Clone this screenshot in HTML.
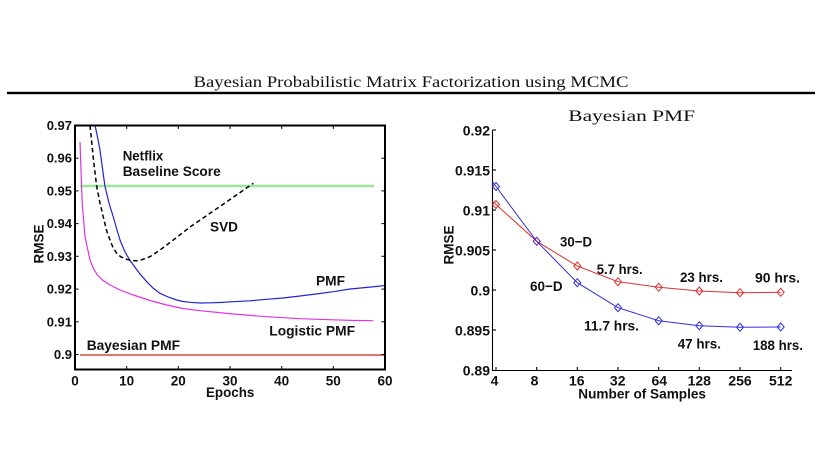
<!DOCTYPE html>
<html>
<head>
<meta charset="utf-8">
<style>
  html,body{margin:0;padding:0;background:#fff;}
  svg{display:block;}
  .lab{font-family:"Liberation Sans",Arial,sans-serif;font-weight:bold;fill:#111;}
  .ser{font-family:"Liberation Serif","Times New Roman",serif;fill:#111;}
</style>
</head>
<body>
<svg width="819" height="460" viewBox="0 0 819 460" xmlns="http://www.w3.org/2000/svg">
  <rect x="0" y="0" width="819" height="460" fill="#fff"/>

  <!-- Main title + rule -->
  <text class="ser" x="193.5" y="87" font-size="15.5" textLength="435" lengthAdjust="spacingAndGlyphs">Bayesian Probabilistic Matrix Factorization using MCMC</text>
  <rect x="7" y="91.8" width="808" height="2.4" fill="#000"/>

  <!-- ============ LEFT CHART ============ -->
  <line x1="80" y1="186" x2="374" y2="186" stroke="#98e898" stroke-width="2.6"/>
  <line x1="80" y1="355" x2="385" y2="355" stroke="#cc2020" stroke-width="1.2"/>
  <polyline fill="none" stroke="#e033e0" stroke-width="1.2" points="80,142 81,170 82.2,203 85,236.7 90,260 93.6,269 97.5,275 103,280.5 110,285 120,290 133.3,295 150,300.5 166.7,305 183,308.5 200,310.7 233.3,314 266.7,316.7 300,318.7 333.3,319.8 355,320.5 373.3,320.7"/>
  <polyline fill="none" stroke="#2424d0" stroke-width="1.2" points="95,125.5 96.7,133 100,150 102,165 105,186.5 109,203 113.3,217 117,230 120,240 125,252 130,260.5 133.3,265 140,274 146.7,281.7 153,288 160,293.3 168,297 176.7,300 183,301.5 190,302.3 200,303 210,302.8 220,302.5 233.3,301.7 250,300.8 266.7,299.3 283,298 300,296 316,294 333.3,291.7 350,289 366,287.5 383.3,285.7 385,285.5"/>
  <polyline fill="none" stroke="#000" stroke-width="1.5" stroke-dasharray="4.5,3" points="90,125.5 91.5,140 93.5,160 96.7,186.7 100,203 103.3,217 107,232 110,240 113,247.5 116.7,253.3 121,257 126.7,259.3 131,260.5 136.7,260.7 143,259.3 150,256.7 160,250 173.3,240 190,227 210,213.3 230,199.5 253.3,183.3"/>

  <rect x="75" y="125.5" width="310" height="244" fill="none" stroke="#000" stroke-width="2"/>
  <g stroke="#000" stroke-width="1">
    <line x1="126.7" y1="369.5" x2="126.7" y2="366"/><line x1="126.7" y1="125.5" x2="126.7" y2="129"/>
    <line x1="178.3" y1="369.5" x2="178.3" y2="366"/><line x1="178.3" y1="125.5" x2="178.3" y2="129"/>
    <line x1="230" y1="369.5" x2="230" y2="366"/><line x1="230" y1="125.5" x2="230" y2="129"/>
    <line x1="281.7" y1="369.5" x2="281.7" y2="366"/><line x1="281.7" y1="125.5" x2="281.7" y2="129"/>
    <line x1="333.3" y1="369.5" x2="333.3" y2="366"/><line x1="333.3" y1="125.5" x2="333.3" y2="129"/>
    <line x1="75" y1="158.2" x2="78.5" y2="158.2"/><line x1="385" y1="158.2" x2="381.5" y2="158.2"/>
    <line x1="75" y1="190.9" x2="78.5" y2="190.9"/><line x1="385" y1="190.9" x2="381.5" y2="190.9"/>
    <line x1="75" y1="223.6" x2="78.5" y2="223.6"/><line x1="385" y1="223.6" x2="381.5" y2="223.6"/>
    <line x1="75" y1="256.3" x2="78.5" y2="256.3"/><line x1="385" y1="256.3" x2="381.5" y2="256.3"/>
    <line x1="75" y1="289.1" x2="78.5" y2="289.1"/><line x1="385" y1="289.1" x2="381.5" y2="289.1"/>
    <line x1="75" y1="321.8" x2="78.5" y2="321.8"/><line x1="385" y1="321.8" x2="381.5" y2="321.8"/>
    <line x1="75" y1="354.5" x2="78.5" y2="354.5"/><line x1="385" y1="354.5" x2="381.5" y2="354.5"/>
  </g>
  <g class="lab" font-size="13" text-anchor="end">
    <text x="72" y="130">0.97</text>
    <text x="72" y="162.7">0.96</text>
    <text x="72" y="195.4">0.95</text>
    <text x="72" y="228.1">0.94</text>
    <text x="72" y="260.8">0.93</text>
    <text x="72" y="293.6">0.92</text>
    <text x="72" y="326.3">0.91</text>
    <text x="72" y="359">0.9</text>
  </g>
  <g class="lab" font-size="13.5" text-anchor="middle">
    <text x="75" y="385.5">0</text>
    <text x="126.7" y="385.5">10</text>
    <text x="178.3" y="385.5">20</text>
    <text x="230" y="385.5">30</text>
    <text x="281.7" y="385.5">40</text>
    <text x="333.3" y="385.5">50</text>
    <text x="385" y="385.5">60</text>
  </g>
  <text class="lab" font-size="13.5" x="206" y="397" textLength="48.3" lengthAdjust="spacingAndGlyphs">Epochs</text>
  <text class="lab" font-size="13.5" transform="translate(43.3,244) rotate(-90)" text-anchor="middle">RMSE</text>

  <g class="lab" font-size="14">
    <text x="122.7" y="160.7" textLength="40.6" lengthAdjust="spacingAndGlyphs">Netflix</text>
    <text x="122.7" y="176" textLength="98" lengthAdjust="spacingAndGlyphs">Baseline Score</text>
    <text x="210" y="231.5" textLength="28" lengthAdjust="spacingAndGlyphs">SVD</text>
    <text x="316" y="285.7" textLength="29" lengthAdjust="spacingAndGlyphs">PMF</text>
    <text x="269.3" y="335.5" textLength="85.7" lengthAdjust="spacingAndGlyphs">Logistic PMF</text>
    <text x="86.7" y="350" textLength="93.3" lengthAdjust="spacingAndGlyphs">Bayesian PMF</text>
  </g>

  <!-- ============ RIGHT CHART ============ -->
  <text class="ser" x="568.3" y="121" font-size="16" textLength="126.7" lengthAdjust="spacingAndGlyphs">Bayesian PMF</text>

  <g stroke="#000" stroke-width="1.1">
    <line x1="492.5" y1="130" x2="492.5" y2="370.5"/>
    <line x1="492" y1="370.5" x2="792" y2="370.5"/>
    <line x1="492.5" y1="130" x2="496" y2="130"/>
    <line x1="492.5" y1="170" x2="496" y2="170"/>
    <line x1="492.5" y1="210" x2="496" y2="210"/>
    <line x1="492.5" y1="250" x2="496" y2="250"/>
    <line x1="492.5" y1="290" x2="496" y2="290"/>
    <line x1="492.5" y1="330" x2="496" y2="330"/>
    <line x1="496" y1="370.5" x2="496" y2="367"/>
    <line x1="536.7" y1="370.5" x2="536.7" y2="367"/>
    <line x1="577.3" y1="370.5" x2="577.3" y2="367"/>
    <line x1="618" y1="370.5" x2="618" y2="367"/>
    <line x1="658.7" y1="370.5" x2="658.7" y2="367"/>
    <line x1="699.3" y1="370.5" x2="699.3" y2="367"/>
    <line x1="740" y1="370.5" x2="740" y2="367"/>
    <line x1="780.7" y1="370.5" x2="780.7" y2="367"/>
  </g>
  <g class="lab" font-size="14" text-anchor="end">
    <text x="490" y="135.5">0.92</text>
    <text x="490" y="175.5">0.915</text>
    <text x="490" y="215.5">0.91</text>
    <text x="490" y="255.5">0.905</text>
    <text x="490" y="295.5">0.9</text>
    <text x="490" y="335.5">0.895</text>
    <text x="490" y="375.5">0.89</text>
  </g>
  <g class="lab" font-size="14" text-anchor="middle">
    <text x="494.5" y="385.5">4</text>
    <text x="534.5" y="385.5">8</text>
    <text x="576.7" y="385.5">16</text>
    <text x="617.7" y="385.5">32</text>
    <text x="659.3" y="385.5">64</text>
    <text x="699.3" y="385.5">128</text>
    <text x="740" y="385.5">256</text>
    <text x="780.7" y="385.5">512</text>
  </g>
  <text class="lab" font-size="14" x="578.3" y="398.5" textLength="127.7" lengthAdjust="spacingAndGlyphs">Number of Samples</text>
  <text class="lab" font-size="13.5" transform="translate(453.3,245) rotate(-90)" text-anchor="middle">RMSE</text>

  <polyline fill="none" stroke="#e03030" stroke-width="1" points="492.5,201.3 496,204.5 536.7,241.3 577.3,266 618,281.7 658.7,287.3 699.3,291 740,292.7 780.7,292.3"/>
  <polyline fill="none" stroke="#3030e0" stroke-width="1" points="492.5,181.8 496,186.5 536.7,241.3 577.3,282.7 618,307.7 658.7,320.7 699.3,325.7 740,327.3 780.7,327"/>
  <g fill="none" stroke="#e03030" stroke-width="1">
    <path d="M496,200.5 L499.5,204.5 L496,208.5 L492.5,204.5 Z"/>
    <path d="M577.3,262 L580.8,266 L577.3,270 L573.8,266 Z"/>
    <path d="M618,277.7 L621.5,281.7 L618,285.7 L614.5,281.7 Z"/>
    <path d="M658.7,283.3 L662.2,287.3 L658.7,291.3 L655.2,287.3 Z"/>
    <path d="M699.3,287 L702.8,291 L699.3,295 L695.8,291 Z"/>
    <path d="M740,288.7 L743.5,292.7 L740,296.7 L736.5,292.7 Z"/>
    <path d="M780.7,288.3 L784.2,292.3 L780.7,296.3 L777.2,292.3 Z"/>
  </g>
  <g fill="none" stroke="#3030e0" stroke-width="1">
    <path d="M496,182.5 L499.5,186.5 L496,190.5 L492.5,186.5 Z"/>
    <path d="M536.7,237.3 L540.2,241.3 L536.7,245.3 L533.2,241.3 Z" stroke="#5020b0"/>
    <path d="M577.3,278.7 L580.8,282.7 L577.3,286.7 L573.8,282.7 Z"/>
    <path d="M618,303.7 L621.5,307.7 L618,311.7 L614.5,307.7 Z"/>
    <path d="M658.7,316.7 L662.2,320.7 L658.7,324.7 L655.2,320.7 Z"/>
    <path d="M699.3,321.7 L702.8,325.7 L699.3,329.7 L695.8,325.7 Z"/>
    <path d="M740,323.3 L743.5,327.3 L740,331.3 L736.5,327.3 Z"/>
    <path d="M780.7,323 L784.2,327 L780.7,331 L777.2,327 Z"/>
  </g>

  <g class="lab" font-size="14">
    <text x="560" y="246.7" textLength="32" lengthAdjust="spacingAndGlyphs">30−D</text>
    <text x="596.7" y="274" textLength="46" lengthAdjust="spacingAndGlyphs">5.7 hrs.</text>
    <text x="680" y="282" textLength="43" lengthAdjust="spacingAndGlyphs">23 hrs.</text>
    <text x="755" y="282.7" textLength="45" lengthAdjust="spacingAndGlyphs">90 hrs.</text>
    <text x="530" y="291" textLength="32.7" lengthAdjust="spacingAndGlyphs">60−D</text>
    <text x="584" y="330.7" textLength="55" lengthAdjust="spacingAndGlyphs">11.7 hrs.</text>
    <text x="677.7" y="348.3" textLength="43.3" lengthAdjust="spacingAndGlyphs">47 hrs.</text>
    <text x="752.7" y="350" textLength="50.3" lengthAdjust="spacingAndGlyphs">188 hrs.</text>
  </g>
</svg>
</body>
</html>
